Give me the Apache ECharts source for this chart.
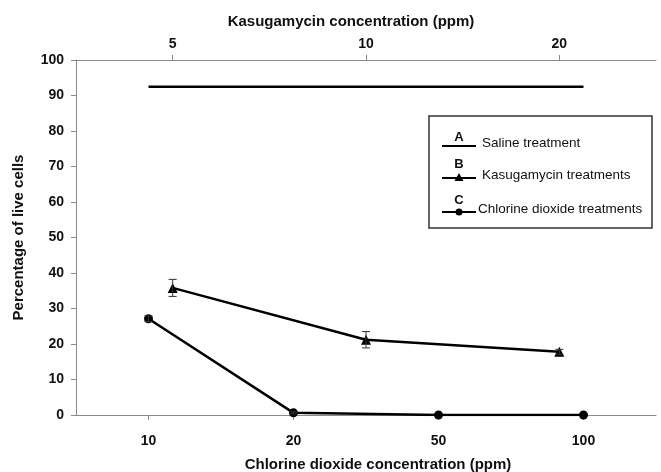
<!DOCTYPE html>
<html>
<head>
<meta charset="utf-8">
<script src="https://cdn.jsdelivr.net/npm/echarts@6/dist/echarts.min.js"></script>
<style>
  html, body { margin: 0; padding: 0; background: #fff; }
  #chart { width: 661px; height: 472px; }
</style>
</head>
<body>
<div id="chart"></div>
<script>
// Concentrations (categorical axes)
const chlorineCategories = ['10', '20', '50', '100'];
const kasugamycinCategories = ['5', '10', '20'];

// Percentage of live cells
const salineValues = [92.5, 92.5, 92.5, 92.5];
const chlorineValues = [27.1, 0.6, 0, 0];
const chlorineErrors = [0.8, 0.3, 0, 0];
const kasugamycinValues = [35.8, 21.2, 17.8];
const kasugamycinErrors = [2.4, 2.3, 0.7];

// Y axis range
const yMin = 0, yMax = 100, yStep = 10;

const FONT = '"Liberation Sans", Arial, sans-serif';
const AXIS_GRAY = '#8a8a8a';

function errorData(values, errors) {
  return values.map((v, i) => [i, v - errors[i], v + errors[i]]);
}

function renderErrorBar(params, api) {
  const x = api.value(0);
  const lo = api.coord([x, api.value(1)]);
  const hi = api.coord([x, api.value(2)]);
  if (Math.abs(hi[1] - lo[1]) < 1) return null;
  const cap = 4;
  const style = { stroke: '#333', lineWidth: 1 };
  return {
    type: 'group',
    children: [
      { type: 'line', shape: { x1: lo[0], y1: lo[1], x2: hi[0], y2: hi[1] }, style },
      { type: 'line', shape: { x1: lo[0] - cap, y1: lo[1], x2: lo[0] + cap, y2: lo[1] }, style },
      { type: 'line', shape: { x1: hi[0] - cap, y1: hi[1], x2: hi[0] + cap, y2: hi[1] }, style }
    ]
  };
}

const axisLabelStyle = { color: '#111', fontFamily: FONT, fontWeight: 'bold', fontSize: 14 };
const axisNameStyle = { color: '#111', fontFamily: FONT, fontWeight: 'bold', fontSize: 15 };

// Legend panel drawn as graphics
const LX = 429, LY = 116, LW = 223, LH = 112;
const sampleX1 = 442, sampleX2 = 476, sampleMid = 459;
function legendRow(letter, label, letterY, lineY, textX, marker) {
  const els = [
    { type: 'text', x: sampleMid, y: letterY, z: 11,
      style: { text: letter, font: 'bold 13px ' + FONT, fill: '#111', align: 'center', verticalAlign: 'middle' } },
    { type: 'line', z: 11, shape: { x1: sampleX1, y1: lineY, x2: sampleX2, y2: lineY },
      style: { stroke: '#000', lineWidth: 2 } },
    { type: 'text', x: textX, y: lineY - 3, z: 11,
      style: { text: label, font: '13.5px ' + FONT, fill: '#111', align: 'left', verticalAlign: 'middle' } }
  ];
  if (marker === 'triangle') {
    els.push({ type: 'polygon', z: 12,
      shape: { points: [[sampleMid, lineY - 5], [sampleMid - 4.5, lineY + 3], [sampleMid + 4.5, lineY + 3]] },
      style: { fill: '#000' } });
  } else if (marker === 'circle') {
    els.push({ type: 'circle', z: 12, shape: { cx: sampleMid, cy: lineY, r: 3.5 }, style: { fill: '#000' } });
  }
  return els;
}

const chart = echarts.init(document.getElementById('chart'), null, { renderer: 'canvas' });

chart.setOption({
  backgroundColor: '#fff',
  animation: false,
  grid: { left: 76, right: 5, top: 60, bottom: 57, containLabel: false, outerBoundsMode: 'none' },
  xAxis: [
    {
      type: 'category',
      position: 'bottom',
      data: chlorineCategories,
      boundaryGap: true,
      axisLine: { show: true, lineStyle: { color: AXIS_GRAY, width: 1 } },
      axisTick: { show: true, alignWithLabel: true, length: 5, lineStyle: { color: AXIS_GRAY } },
      axisLabel: Object.assign({ margin: 19 }, axisLabelStyle),
      splitLine: { show: false },
      name: 'Chlorine dioxide concentration (ppm)',
      nameLocation: 'middle',
      nameGap: 42,
      nameTextStyle: Object.assign({ padding: [0, 0, 0, 24] }, axisNameStyle)
    },
    {
      type: 'category',
      position: 'top',
      data: kasugamycinCategories,
      boundaryGap: true,
      axisLine: { show: true, lineStyle: { color: AXIS_GRAY, width: 1 } },
      axisTick: { show: true, alignWithLabel: true, length: 5, lineStyle: { color: AXIS_GRAY } },
      axisLabel: Object.assign({ margin: 9 }, axisLabelStyle),
      splitLine: { show: false },
      name: 'Kasugamycin concentration (ppm)',
      nameLocation: 'middle',
      nameGap: 31,
      nameTextStyle: Object.assign({ padding: [0, 30, 0, 0] }, axisNameStyle)
    }
  ],
  yAxis: {
    type: 'value',
    min: yMin,
    max: yMax,
    interval: yStep,
    axisLine: { show: true, lineStyle: { color: AXIS_GRAY, width: 1 } },
    axisTick: { show: true, length: 5, lineStyle: { color: AXIS_GRAY } },
    axisLabel: Object.assign({ margin: 12 }, axisLabelStyle),
    splitLine: { show: false },
    name: 'Percentage of live cells',
    nameLocation: 'middle',
    nameGap: 50,
    nameRotate: 90,
    nameTextStyle: axisNameStyle
  },
  series: [
    {
      name: 'Saline treatment',
      type: 'line',
      xAxisIndex: 0,
      data: salineValues,
      symbol: 'none',
      lineStyle: { color: '#000', width: 2.5 }
    },
    {
      name: 'Chlorine dioxide treatments',
      type: 'line',
      xAxisIndex: 0,
      data: chlorineValues,
      symbol: 'circle',
      symbolSize: 9,
      itemStyle: { color: '#000' },
      lineStyle: { color: '#000', width: 2.5 },
      z: 3
    },
    {
      name: 'Kasugamycin treatments',
      type: 'line',
      xAxisIndex: 1,
      data: kasugamycinValues,
      symbol: 'triangle',
      symbolSize: 10,
      itemStyle: { color: '#000' },
      lineStyle: { color: '#000', width: 2.5 },
      z: 3
    },
    {
      type: 'custom',
      xAxisIndex: 0,
      data: errorData(chlorineValues, chlorineErrors),
      renderItem: renderErrorBar,
      z: 4
    },
    {
      type: 'custom',
      xAxisIndex: 1,
      data: errorData(kasugamycinValues, kasugamycinErrors),
      renderItem: renderErrorBar,
      z: 4
    }
  ],
  graphic: [
    { type: 'rect', z: 10, shape: { x: LX, y: LY, width: LW, height: LH },
      style: { fill: '#fff', stroke: '#333', lineWidth: 1.5 } },
    ...legendRow('A', 'Saline treatment', 137, 146, 482, null),
    ...legendRow('B', 'Kasugamycin treatments', 164, 178, 482, 'triangle'),
    ...legendRow('C', 'Chlorine dioxide treatments', 200, 212, 478, 'circle')
  ]
});
</script>
</body>
</html>
